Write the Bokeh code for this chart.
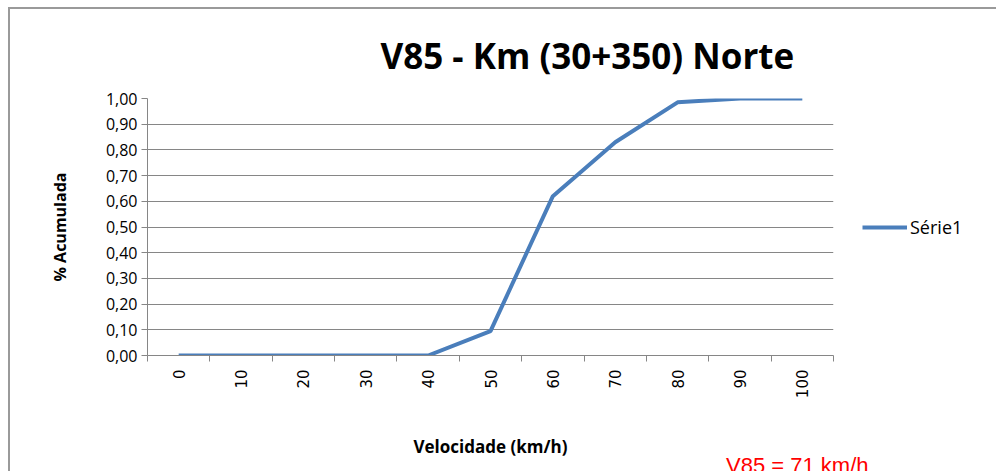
import math
from bokeh.plotting import figure
from bokeh.models import Range1d, FixedTicker, Legend, LegendItem, Title
from bokeh.embed import file_html
from bokeh.resources import INLINE

categories = ["0", "10", "20", "30", "40", "50", "60", "70", "80", "90", "100"]
values = [0.0, 0.0, 0.0, 0.0, 0.0, 0.095, 0.62, 0.83, 0.985, 1.0, 1.0]
y_ticks = [0.0, 0.1, 0.2, 0.3, 0.4, 0.5, 0.6, 0.7, 0.8, 0.9, 1.0]
y_tick_labels = ["0,00", "0,10", "0,20", "0,30", "0,40", "0,50", "0,60", "0,70", "0,80", "0,90", "1,00"]
series_name = "Série1"
title_text = "V85 - Km (30+350) Norte"
note_text = "V85 = 71 km/h"

xs = list(range(len(categories)))
n = len(categories)

p = figure(frame_width=686, frame_height=257, output_backend="svg", toolbar_location=None,
           x_range=Range1d(-0.5, n - 0.5), y_range=Range1d(0, 1),
           min_border_left=137, min_border_top=89, min_border_bottom=116,
           min_border_right=150)
p.margin = (7, 0, 0, 8)
p.styles = {"border-top": "2px solid #9a9a9a", "border-left": "2px solid #9a9a9a"}
p.outline_line_color = None
p.background_fill_color = "white"
p.border_fill_color = "white"

r = p.line(xs, values, line_color="#4A7EBB", line_width=4)

# x axis
p.xaxis.ticker = FixedTicker(ticks=xs, minor_ticks=[i - 0.5 for i in range(n + 1)])
p.xaxis.major_label_overrides = {i: c for i, c in enumerate(categories)}
p.xaxis.major_label_orientation = math.pi / 2
p.xaxis.major_tick_out = 0
p.xaxis.major_tick_in = 0
p.xaxis.minor_tick_out = 6
p.xaxis.minor_tick_in = 0
p.xaxis.minor_tick_line_color = "#868686"
p.xaxis.axis_line_color = "#868686"
p.xaxis.major_label_text_font = "DejaVu Sans"
p.xaxis.major_label_text_font_size = "15px"
p.xaxis.major_label_text_color = "#000000"
p.xaxis.major_label_standoff = 8
p.xaxis.axis_label = "Velocidade (km/h)"
p.xaxis.axis_label_text_font = "Open Sans"
p.xaxis.axis_label_text_font_style = "bold"
p.xaxis.axis_label_text_font_size = "17px"
p.xaxis.axis_label_text_color = "#000000"
p.xaxis.axis_label_standoff = 34

# y axis
p.yaxis.ticker = FixedTicker(ticks=y_ticks, minor_ticks=[])
p.yaxis.major_label_overrides = {t: l for t, l in zip(y_ticks, y_tick_labels)}
p.yaxis.major_tick_out = 6
p.yaxis.major_tick_in = 0
p.yaxis.major_tick_line_color = "#868686"
p.yaxis.axis_line_color = "#868686"
p.yaxis.major_label_text_font = "Open Sans"
p.yaxis.major_label_text_font_size = "16px"
p.yaxis.major_label_text_color = "#000000"
p.yaxis.major_label_standoff = 4
p.yaxis.axis_label = "% Acumulada"
p.yaxis.axis_label_text_font = "Open Sans"
p.yaxis.axis_label_text_font_style = "bold"
p.yaxis.axis_label_text_font_size = "16px"
p.yaxis.axis_label_text_color = "#000000"
p.yaxis.axis_label_standoff = 32

p.xgrid.grid_line_color = None
p.ygrid.ticker = FixedTicker(ticks=y_ticks)
p.ygrid.grid_line_color = "#868686"
p.ygrid.grid_line_width = 1

legend = Legend(items=[LegendItem(label=series_name, renderers=[r])],
                location="left", orientation="vertical")
legend.border_line_color = None
legend.background_fill_alpha = 0
legend.glyph_width = 45
legend.label_text_font = "Open Sans"
legend.label_text_font_size = "18px"
legend.label_text_color = "#000000"
legend.margin = 29
legend.padding = 0
legend.label_standoff = 3
p.add_layout(legend, "right")

t = Title(text=title_text, align="left", offset=233, text_font="Open Sans",
          text_font_style="bold", text_font_size="35px", text_color="#000000",
          standoff=40)
p.add_layout(t, "above")

note = Title(text=note_text, align="right", offset=-35, text_font="Liberation Sans",
             text_font_style="normal", text_font_size="22px", text_color="#FF0000",
             standoff=-32)
p.add_layout(note, "below")

open("out.html", "w").write(file_html(p, INLINE))
